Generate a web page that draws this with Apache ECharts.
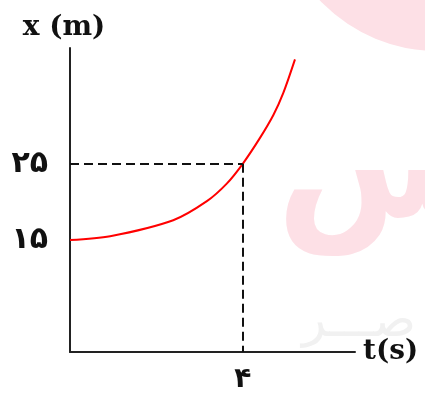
<!DOCTYPE html>
<html>
<head>
<meta charset="utf-8">
<script src="https://cdn.jsdelivr.net/npm/echarts@6/dist/echarts.min.js"></script>
<style>
  html, body { margin: 0; padding: 0; background: #fff; }
  #chart { width: 425px; height: 394px; }
</style>
</head>
<body>
<div id="chart"></div>
<script>
// position-time curve
let tValues = [0, 0.93, 2.39, 3.17, 3.63, 4, 4.40, 4.71, 4.94, 5.21];
let xValues = [15, 15.5, 17.6, 20.1, 22.4, 25, 28.4, 31.4, 34.3, 38.7];

// tick labels (Persian digits)
let yTickValues = [15, 25];
let yTickLabels = ['۱۵', '۲۵'];
let xTickValues = [4];
let xTickLabels = ['۴'];

// the marked point
let markT = 4;
let markX = 25;

let myChart = echarts.init(document.getElementById('chart'));

let axisColor = '#222';
let labelFont = 'DejaVu Sans';
let nameFont = 'DejaVu Serif';

let option = {
    animation: false,
    backgroundColor: '#fff',
    grid: {
        left: 70,
        right: 70,
        top: 48,
        bottom: 39
    },
    graphic: [
        // faint watermark behind the chart
        {
            type: 'circle',
            z: -10,
            shape: { cx: 437, cy: -110, r: 161 },
            style: { fill: '#fde0e6' }
        },
        {
            type: 'text',
            z: -10,
            left: 276,
            top: 95,
            style: {
                text: 'س',
                font: 'bold 160px "DejaVu Sans"',
                fill: '#fde0e6'
            }
        },
        {
            type: 'text',
            z: -10,
            left: 302,
            top: 298,
            style: {
                text: 'صـــر',
                font: '50px "DejaVu Sans"',
                fill: '#f1f1f1'
            }
        }
    ],
    xAxis: {
        type: 'value',
        min: 0,
        max: 6.6,
        name: 't(s)',
        nameLocation: 'end',
        nameGap: 8,
        nameTextStyle: {
            fontFamily: nameFont,
            fontWeight: 'bold',
            fontSize: 28,
            color: '#111'
        },
        axisLine: { onZero: false, lineStyle: { color: axisColor, width: 2 } },
        axisTick: { show: false },
        splitLine: { show: false },
        axisLabel: {
            customValues: xTickValues,
            formatter: v => xTickLabels[xTickValues.indexOf(v)],
            margin: 14,
            fontFamily: labelFont,
            fontWeight: 'bold',
            fontSize: 28,
            color: '#111'
        }
    },
    yAxis: {
        type: 'value',
        min: 0.3,
        max: 40.2,
        name: 'x (m)',
        nameLocation: 'end',
        nameGap: 6,
        nameTextStyle: {
            fontFamily: nameFont,
            fontWeight: 'bold',
            fontSize: 28,
            color: '#111',
            align: 'center',
            padding: [0, 12, 0, 0]
        },
        axisLine: { show: true, onZero: false, lineStyle: { color: axisColor, width: 2 } },
        axisTick: { show: false },
        splitLine: { show: false },
        axisLabel: {
            customValues: yTickValues,
            formatter: v => yTickLabels[yTickValues.indexOf(v)],
            margin: 22,
            fontFamily: labelFont,
            fontWeight: 'bold',
            fontSize: 30,
            color: '#111'
        }
    },
    series: [{
        type: 'line',
        data: tValues.map((t, i) => [t, xValues[i]]),
        smooth: 0.3,
        showSymbol: false,
        lineStyle: { color: '#ff0000', width: 2 },
        markLine: {
            silent: true,
            symbol: 'none',
            label: { show: false },
            lineStyle: { color: '#111', width: 2, type: [9, 5] },
            data: [
                [{ coord: [0, markX] }, { coord: [markT, markX] }],
                [{ coord: [markT, markX] }, { coord: [markT, 0.3] }]
            ]
        }
    }]
};

myChart.setOption(option);
</script>
</body>
</html>
